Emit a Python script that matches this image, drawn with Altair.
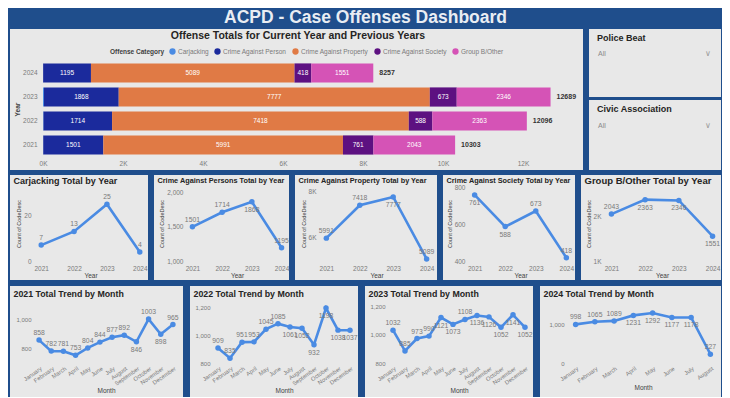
import altair as alt
import pandas as pd

# ---------------- data ----------------
years = ["2021", "2022", "2023", "2024"]
categories = ["Carjacking", "Crime Against Person", "Crime Against Property",
              "Crime Against Society", "Group B/Other"]
carjacking = [7, 13, 25, 4]
against_person = [1501, 1714, 1868, 1195]
against_property = [5991, 7418, 7777, 5089]
against_society = [761, 588, 673, 418]
group_b_other = [2043, 2363, 2346, 1551]

months = ["January", "February", "March", "April", "May", "June", "July",
          "August", "September", "October", "November", "December"]
monthly_2021 = [858, 782, 781, 753, 804, 844, 877, 892, 846, 1003, 898, 965]
monthly_2022 = [909, 835, 951, 953, 1045, 1085, 1061, 1052, 932, 1198, 1038, 1037]
monthly_2023 = [1032, 885, 973, 990, 1121, 1073, 1108, 1136, 1126, 1052, 1141, 1052]
monthly_2024 = [998, 1065, 1089, 1231, 1292, 1177, 1178, 227]
months_2024 = months[:8]

bar_ticks = [0, 2000, 4000, 6000, 8000, 10000, 12000]

# ---------------- style ----------------
FONT = "Liberation Sans"
BG = "#1f4e8c"
PANEL = "#e8e8e8"
DARK = "#252423"
GREY = "#7a7a7a"
AXT = "#3f3f3f"
LINE = "#4a8be3"
cat_colors = ["#4a8be3", "#1b2a9c", "#e07a45", "#5d1181", "#d553b6"]


def box(x1, x2, y1, y2):
    return alt.Chart(alt.Data(values=[{"k": 0}])).mark_rect(color=PANEL).encode(
        x=alt.value(x1), x2=alt.value(x2), y=alt.value(y1), y2=alt.value(y2))


def panel_rect(L, T, W, H, R, B):
    return box(-L, W + R, -T, H + B)


def label_text(s, x, y, size, color=DARK, weight="bold", align="left", font=FONT):
    return alt.Chart(alt.Data(values=[{"t": s}])).mark_text(
        align=align, baseline="middle", fontSize=size, fontWeight=weight,
        color=color, font=font
    ).encode(x=alt.value(x), y=alt.value(y), text="t:N")


def label_side(vals, lo, hi):
    ups = []
    for i, v in enumerate(vals):
        f = (v - lo) / (hi - lo)
        if f > 0.77:
            up = False
        elif f < 0.25:
            up = True
        elif i == 0:
            up = True
        else:
            up = v >= vals[i - 1]
        ups.append(up)
    return ups


def line_panel(title, tsize, cats, vals, L, W, R, T, H, B, domain, ticks, yfmt,
               ytitle, xtitle, pad, angle, xsize, ysize, xlabpad, title_y):
    df = pd.DataFrame({"c": cats, "v": vals, "up": label_side(vals, *domain)})
    xaxis_kw = dict(title=xtitle, labelAngle=angle, labelFontSize=xsize,
                    labelColor=GREY, labelPadding=xlabpad, titleFontSize=6.5,
                    titleColor=AXT, titleFontWeight="normal", titlePadding=1,
                    zindex=2)
    if angle != 0:
        xaxis_kw["labelAlign"] = "right"
        xaxis_kw["labelBaseline"] = "top"
    yaxis_kw = dict(values=ticks, labelFontSize=ysize, labelColor=GREY,
                    labelPadding=2, titleFontSize=5.5, titleColor=AXT,
                    titleFontWeight="normal", titlePadding=2, zindex=2)
    if ytitle:
        yaxis_kw["title"] = ytitle
    else:
        yaxis_kw["title"] = None
    if yfmt == "K":
        yaxis_kw["labelExpr"] = "datum.value / 1000 + 'K'"
    elif yfmt:
        yaxis_kw["format"] = yfmt
    base = alt.Chart(df).encode(
        x=alt.X("c:N", sort=cats, scale=alt.Scale(type="point", padding=pad),
                axis=alt.Axis(**xaxis_kw)),
        y=alt.Y("v:Q", scale=alt.Scale(domain=domain, nice=False, zero=False),
                axis=alt.Axis(**yaxis_kw)),
    )
    line = base.mark_line(color=LINE, strokeWidth=2.6)
    pts = base.mark_circle(color=LINE, size=30, opacity=1)
    up = base.transform_filter("datum.up").mark_text(
        dy=-7, fontSize=6.8, color=GREY, font=FONT).encode(text="v:Q")
    dn = base.transform_filter("!datum.up").mark_text(
        dy=8, fontSize=6.8, color=GREY, font=FONT).encode(text="v:Q")
    return alt.layer(
        panel_rect(L, T, W, H, R, B),
        label_text(title, -L + 3.5, title_y, tsize),
        line, pts, up, dn,
    ).properties(width=W, height=H)


# ---------------- bar panel ----------------
rows = []
for ci, vals in enumerate([carjacking, against_person, against_property,
                           against_society, group_b_other]):
    for yr, v in zip(years, vals):
        rows.append({"Year": yr, "cat": categories[ci], "ci": ci, "v": v})
bar_df = pd.DataFrame(rows)

xscale = alt.Scale(domain=[-250, 13250], nice=False, zero=False)
xaxis_bar = alt.Axis(values=bar_ticks, labelExpr="datum.value / 1000 + 'K'",
                     title=None, labelFontSize=6.5, labelColor=GREY,
                     labelPadding=3, labelFlush=False, zindex=2)
yscale = alt.Scale(paddingInner=0.2, paddingOuter=0.1)
yaxis_bar = alt.Axis(title="Year", labelFontSize=6.5, labelColor=GREY,
                     labelPadding=-4, titleFontSize=6.5, titleColor=AXT,
                     titleFontWeight="bold", titlePadding=2, zindex=2)
yenc = alt.Y("Year:N", sort="descending", scale=yscale, axis=yaxis_bar)

stacked = alt.Chart(bar_df).transform_stack(
    stack="v", as_=["v0", "v1"], groupby=["Year"],
    sort=[alt.SortField(field="ci", order="ascending")])

bars = stacked.mark_bar().encode(
    x=alt.X("v0:Q", scale=xscale, axis=xaxis_bar),
    x2="v1:Q",
    y=yenc,
    color=alt.Color("cat:N", scale=alt.Scale(domain=categories, range=cat_colors),
                    legend=alt.Legend(title="Offense Category", orient="none",
                                      legendX=77, legendY=-13,
                                      direction="horizontal", titleOrient="left",
                                      symbolType="circle", symbolSize=40,
                                      symbolStrokeWidth=0, labelFontSize=6.5,
                                      labelColor=GREY, titleFontSize=6.5,
                                      titleColor=AXT, titleFontWeight="bold",
                                      columnPadding=5, labelOffset=2,
                                      titlePadding=4)),
)
seg_labels = stacked.transform_filter("datum.ci > 0").transform_calculate(
    mid="(datum.v0 + datum.v1) / 2"
).mark_text(color="white", fontSize=6.5, font=FONT).encode(
    x=alt.X("mid:Q", scale=xscale, axis=xaxis_bar), y=yenc, text="v:Q")
totals = alt.Chart(bar_df).transform_aggregate(
    total="sum(v)", groupby=["Year"]
).mark_text(align="left", dx=6, fontSize=7, fontWeight="bold", color="#333333",
            font=FONT).encode(
    x=alt.X("total:Q", scale=xscale, axis=xaxis_bar), y=yenc, text="total:Q")

bar_panel = alt.layer(
    panel_rect(23, 32, 540, 96, 10, 13),
    label_text("Offense Totals for Current Year and Previous Years", 265, -25,
               10.5, align="center"),
    bars, seg_labels, totals,
).properties(width=540, height=96)

# ---------------- slicers (two boxes in one view, top-aligned with the bars) ----
SW = 132
slicers = alt.layer(
    box(0, SW, -32, 36),
    label_text("Police Beat", 8, -23.5, 9),
    label_text("All", 9, -7, 7, color="#8a8a8a", weight="normal"),
    label_text("\u2228", 119, -7, 8, color="#9a9a9a", weight="normal",
               align="center", font="DejaVu Sans"),
    box(0, SW, 39, 109),
    label_text("Civic Association", 8, 48, 9),
    label_text("All", 9, 64.5, 7, color="#8a8a8a", weight="normal"),
    label_text("\u2228", 119, 64.5, 8, color="#9a9a9a", weight="normal",
               align="center", font="DejaVu Sans"),
).properties(width=SW, height=96)

# ---------------- yearly line panels ----------------
T2, H2, B2 = 11, 75, 19
row2_panels = [
    line_panel("Carjacking Total by Year", 9, years, carjacking, 23, 115, 0,
               T2, H2, B2, [0, 33], [0, 20], "", "Count of CodeDesc", "Year",
               0.25, 0, 6.5, 6.5, 4, -5.5),
    line_panel("Crime Against Persons Total by Year", 7.3, years, against_person,
               31, 104, 0, T2, H2, B2, [1000, 2100], [1000, 1500, 2000], ",d",
               "Count of CodeDesc", "Year", 0.25, 0, 6.5, 6.5, 4, -5.5),
    line_panel("Crime Against Property Total by Year", 7.3, years,
               against_property, 23, 117, 2, T2, H2, B2, [5000, 8250],
               [6000, 8000], "K", "Count of CodeDesc", "Year", 0.25, 0, 6.5,
               6.5, 4, -5.5),
    line_panel("Crime Against Society Total by Year", 7.3, years,
               against_society, 24, 107, 1, T2, H2, B2, [400, 810],
               [400, 600, 800], "", "Count of CodeDesc", "Year", 0.25, 0, 6.5,
               6.5, 4, -5.5),
    line_panel("Group B/Other Total by Year", 9.5, years, group_b_other, 22, 118,
               0, T2, H2, B2, [1000, 2667], [1000, 2000], "K",
               "Count of CodeDesc", "Year", 0.25, 0, 6.5, 6.5, 4, -5.5),
]

# ---------------- monthly line panels ----------------
T3, H3, B3 = 19, 58, 34
row3_panels = [
    line_panel("2021 Total Trend by Month", 8.8, months, monthly_2021, 23, 146, 4,
               T3, H3, B3, [700, 1100], [800, 1000], ",d", None, "Month", 0.5,
               -35, 5.8, 6, 2, -11.5),
    line_panel("2022 Total Trend by Month", 8.8, months, monthly_2022, 22, 144, 2,
               T3, H3, B3, [800, 1220], [800, 1000, 1200], ",d", None, "Month",
               0.5, -35, 5.8, 6, 2, -11.5),
    line_panel("2023 Total Trend by Month", 8.8, months, monthly_2023, 22, 144, 2,
               T3, H3, B3, [800, 1210], [800, 1000, 1200], ",d", None, "Month",
               0.5, -35, 5.8, 6, 2, -11.5),
    line_panel("2024 Total Trend by Month", 8.8, months_2024, monthly_2024, 26,
               154, 1, T3, H3, B3, [0, 1500], [0, 1000], ",d", None, "Month",
               0.5, -35, 5.8, 6, 2, -11.5),
]

row1 = alt.concat(bar_panel, slicers, columns=2, align="none", spacing=6)
row2 = alt.concat(*row2_panels, columns=5, align="none", spacing=6)
row3 = alt.concat(*row3_panels, columns=4, align="none", spacing=7)
lower = alt.concat(row2, row3, columns=1, align="none", spacing=6)

chart = alt.concat(
    row1, lower, columns=1, align="none", spacing=5
).properties(
    title=alt.TitleParams(text="ACPD - Case Offenses Dashboard", fontSize=17.5,
                          fontWeight="bold", color="#e9edf3", font=FONT,
                          anchor="middle", offset=3),
    background=BG,
    padding={"left": 2, "top": 0, "right": 1, "bottom": 0},
).configure_view(
    strokeWidth=0
).configure_axis(
    ticks=False, domain=False, grid=False,
    labelFont=FONT, titleFont=FONT
).configure_legend(
    labelFont=FONT, titleFont=FONT
)

chart.save("out.html", embed_options={"renderer": "svg", "actions": False})
